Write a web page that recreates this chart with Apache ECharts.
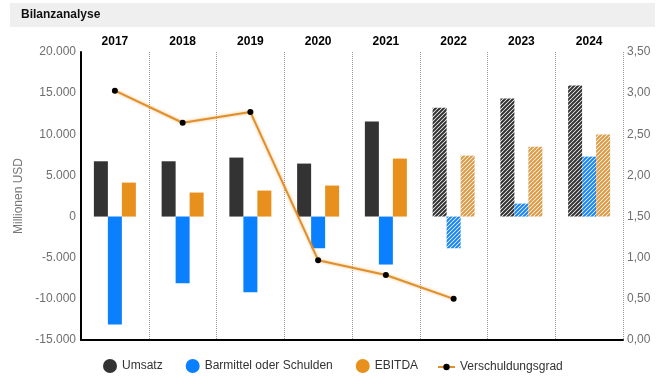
<!DOCTYPE html>
<html><head><meta charset="utf-8">
<script src="https://cdn.jsdelivr.net/npm/echarts@6/dist/echarts.min.js"></script>
<style>html,body{margin:0;padding:0;background:#fff}#c{width:661px;height:384px}</style>
</head><body><div id="c"></div>
<script>
const years = ['2017','2018','2019','2020','2021','2022','2023','2024'];
const umsatz = [6720, 6720, 7170, 6440, 11540, 13240, 14340, 15920];
const barmittel = [-13120, -8100, -9200, -3850, -5830, -3850, 1580, 7290];
const ebitda = [4130, 2920, 3160, 3770, 7050, 7410, 8500, 9960];
const verschuldung = [3.03, 2.64, 2.77, 0.97, 0.79, 0.50, null, null];
const estimateFrom = 5; // index of first forecast year (hatched)

function hatch(color) {
  const c = document.createElement('canvas');
  c.width = 4; c.height = 4;
  const ctx = c.getContext('2d');
  ctx.fillStyle = '#fff'; ctx.fillRect(0,0,4,4);
  ctx.strokeStyle = color; ctx.lineWidth = 2;
  ctx.beginPath();
  ctx.moveTo(-1,1); ctx.lineTo(1,-1);
  ctx.moveTo(0,4); ctx.lineTo(4,0);
  ctx.moveTo(3,5); ctx.lineTo(5,3);
  ctx.stroke();
  return {image: c, repeat: 'repeat'};
}
function barData(vals, hcolor) {
  return vals.map((v,i) => i >= estimateFrom ? {value: v, itemStyle: {color: hatch(hcolor)}} : v);
}
function fmtThousands(v) {
  const s = Math.abs(v).toString().replace(/\B(?=(\d{3})+(?!\d))/g, '.');
  return (v < 0 ? '-' : '') + s;
}
const cUms = '#333333', cBar = '#0a80ff', cEb = '#e8901e';
const chart = echarts.init(document.getElementById('c'));
const font = 'Liberation Sans, Arial, sans-serif';
chart.setOption({
  animation: false,
  textStyle: {fontFamily: font},
  graphic: [
    {type: 'rect', left: 10, top: 3, shape: {width: 645, height: 24}, style: {fill: '#efefef'}},
    {type: 'text', left: 21, top: 9, style: {text: 'Bilanzanalyse', font: 'bold 12px ' + font, fill: '#111'}}
  ],
  grid: {left: 81, right: 38, top: 52, bottom: 44},
  legend: [
    {
      top: 359, left: 103, padding: 0, itemWidth: 14, itemHeight: 14, itemGap: 23, icon: 'circle',
      textStyle: {fontSize: 12, color: '#333', fontFamily: font},
      data: ['Umsatz', 'Barmittel oder Schulden', 'EBITDA']
    },
    {
      top: 361, left: 437, padding: 0, itemWidth: 17, itemHeight: 8,
      textStyle: {fontSize: 12, color: '#333', fontFamily: font},
      data: ['Verschuldungsgrad']
    }
  ],
  xAxis: [
    {type: 'category', data: years, position: 'top',
     axisLine: {show: false}, axisTick: {show: false},
     axisLabel: {fontWeight: 'bold', fontSize: 12, color: '#000', margin: 4},
     splitLine: {show: true, lineStyle: {type: 'dotted', color: '#999'}}},
    {type: 'category', data: years, position: 'bottom',
     axisLine: {show: true, onZero: false, lineStyle: {color: '#000', width: 2}},
     axisTick: {show: false}, axisLabel: {show: false}}
  ],
  yAxis: [
    {type: 'value', min: -15000, max: 20000, interval: 5000,
     name: 'Millionen USD', nameLocation: 'middle', nameGap: 52,
     nameTextStyle: {color: '#777', fontSize: 12},
     axisLine: {show: true, lineStyle: {color: '#000', width: 2}},
     axisTick: {show: false}, splitLine: {show: false},
     axisLabel: {color: '#6e6e6e', fontSize: 12, margin: 5, formatter: fmtThousands}},
    {type: 'value', min: 0, max: 3.5, interval: 0.5, position: 'right',
     axisLine: {show: false}, axisTick: {show: false}, splitLine: {show: false},
     axisLabel: {color: '#6e6e6e', fontSize: 12, margin: 4, formatter: v => v.toFixed(2).replace('.', ',')}}
  ],
  series: [
    {name: 'Umsatz', type: 'bar', barWidth: 14, barGap: '0%', itemStyle: {color: cUms}, data: barData(umsatz, '#333')},
    {name: 'Barmittel oder Schulden', type: 'bar', barWidth: 14, barGap: '0%', itemStyle: {color: cBar}, data: barData(barmittel, '#1a85f0')},
    {name: 'EBITDA', type: 'bar', barWidth: 14, barGap: '0%', itemStyle: {color: cEb}, data: barData(ebitda, '#dd9a45')},
    {name: 'Verschuldungsgrad', type: 'line', yAxisIndex: 1, data: verschuldung,
     symbol: 'circle', symbolSize: 6, itemStyle: {color: '#000'},
     lineStyle: {color: '#e0902a', width: 2, shadowBlur: 3, shadowColor: 'rgba(232,144,30,0.6)'},
     z: 5}
  ]
});
</script></body></html>
